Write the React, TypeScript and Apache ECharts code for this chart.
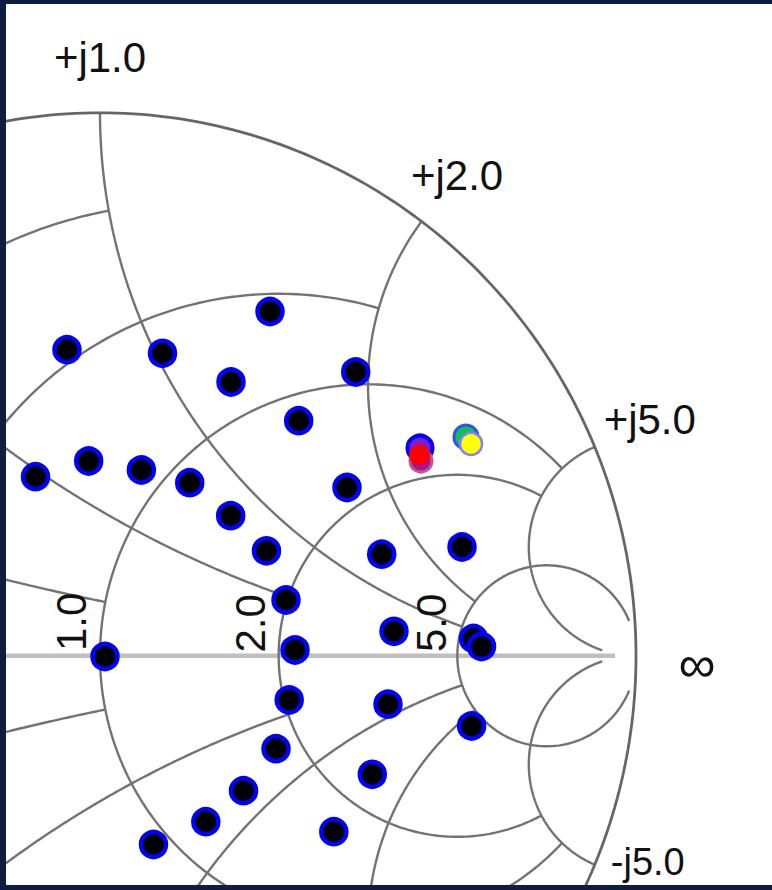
import React, { useEffect, useRef } from "react";
import * as echarts from "echarts";

// Smith chart grid (MATLAB-style: value row and the limit each line is drawn up to)
const resistanceValues = [0.2, 0.5, 1, 2, 5];
const resistanceLimits = [1, 2, 5, 5, 30];
const reactanceValues = [0.2, 0.5, 1, 2, 5];
const reactanceLimits = [1, 2, 5, 5, 30];

const resistanceLabelValues = [1, 2, 5];
const resistanceLabels = ["1.0", "2.0", "5.0"];
const reactanceLabelValues = [1, 2, 5, -5];
const reactanceLabels = ["+j1.0", "+j2.0", "+j5.0", "-j5.0"];
const infinityLabel = "\u221E";

// measured points (reflection coefficient, real / imaginary)
const pointsRe = [
  0.3172, -0.0616, 0.1166, 0.2444, 0.4771, 0.3707, -0.1203, -0.0211, 0.0772, 0.1674,
  0.2438, 0.4608, 0.3106, 0.5256, 0.6754, 0.347, 0.5485, 0.6968, 0.7118, 0.3638,
  0.0093, 0.353, 0.5373, 0.6933, 0.3284, 0.508, 0.2677, 0.1974, 0.4362, 0.0998,
];
const pointsIm = [
  0.6341, 0.5637, 0.5571, 0.5042, 0.5227, 0.433, 0.3298, 0.3587, 0.3422, 0.3188,
  0.258, 0.3099, 0.1934, 0.1871, 0.2004, 0.1028, 0.0451, 0.0319, 0.0171, 0.0107,
  -0.0013, -0.0814, -0.0891, -0.1293, -0.1711, -0.2182, -0.2484, -0.3055, -0.3239, -0.3475,
];

// highlighted points
const purpleRe = [0.597];
const purpleIm = [0.3827];
const magentaRe = [0.5989];
const magentaIm = [0.3587];
const redRe = [0.5961];
const redIm = [0.3698];
const greenRe = [0.6828];
const greenIm = [0.4029];
const yellowRe = [0.6922];
const yellowIm = [0.3901];

function resistanceCircle(r: number, lim: number, n = 240): number[][] {
  const a = r + 1;
  const c = r / a;
  const rho = 1 / a;
  const phiMax = Math.atan(lim / a);
  const pts: number[][] = [];
  for (let i = 0; i <= n; i++) {
    const phi = -phiMax + (2 * phiMax * i) / n;
    const th = Math.PI - 2 * phi;
    pts.push([c + rho * Math.cos(th), rho * Math.sin(th)]);
  }
  return pts;
}

function reactanceArc(x: number, lim: number, n = 240): number[][] {
  const p0 = Math.atan(x / 1);
  const p1 = Math.atan(x / (lim + 1));
  const pts: number[][] = [];
  for (let i = 0; i <= n; i++) {
    const phi = p0 + ((p1 - p0) * i) / n;
    pts.push([1 - Math.sin(2 * phi) / x, (1 - Math.cos(2 * phi)) / x]);
  }
  return pts;
}

function zToGamma(r: number, x: number): number[] {
  const nr = r - 1, ni = x, dr = r + 1, di = x;
  const d = dr * dr + di * di;
  return [(nr * dr + ni * di) / d, (ni * dr - nr * di) / d];
}

const zip = (a: number[], b: number[]) => a.map((v, i) => [v, b[i]]);

// plot box geometry (pixels)
const BOX_L = 6, BOX_T = 4, BOX_W = 766, BOX_H = 881;
const CX = 100, CY = 655.8, RX = 536, RY = 543;

export default function App() {
  const ref = useRef<HTMLDivElement>(null);
  useEffect(() => {
    const chart = echarts.init(ref.current!, null, { renderer: "svg" });
    const gridColor = "#737373";
    const series: any[] = [];
    const lineS = (data: number[][], color: string, width: number) => ({
      type: "line",
      data,
      showSymbol: false,
      silent: true,
      smooth: false,
      lineStyle: { color, width },
      z: 2,
    });
    series.push(lineS([[-1, 0], [0.961, 0]], "#bfbfbf", 4.5));
    resistanceValues.forEach((r, i) => series.push(lineS(resistanceCircle(r, resistanceLimits[i]), gridColor, 2.4)));
    reactanceValues.forEach((x, i) => {
      series.push(lineS(reactanceArc(x, reactanceLimits[i]), gridColor, 2.4));
      series.push(lineS(reactanceArc(-x, reactanceLimits[i]), gridColor, 2.4));
    });
    series.push(lineS(resistanceCircle(0, Infinity, 400), "#666666", 2.8));

    const dot = (data: number[][], color: string, border: string, bw: number, size: number, z: number) => ({
      type: "scatter",
      data,
      symbol: "circle",
      symbolSize: size,
      silent: true,
      itemStyle: { color, borderColor: border, borderWidth: bw, opacity: 1 },
      z,
    });
    series.push(dot(zip(pointsRe, pointsIm), "#000000", "#0000ff", 4.5, 25, 5));
    series.push(dot(zip(purpleRe, purpleIm), "#7a1fd0", "#0000ff", 4, 25, 6));
    series.push(dot(zip(magentaRe, magentaIm), "#9a1aa8", "#d05080", 3, 22, 7));
    series.push(dot(zip(redRe, redIm), "#ff0000", "#ff0000", 0, 21, 8));
    series.push(dot(zip(greenRe, greenIm), "#10c050", "#3050ff", 3, 24, 6));
    series.push(dot(zip(yellowRe, yellowIm), "#ffff00", "#8080ff", 2.5, 22, 7));

    const uMin = (BOX_L - CX) / RX;
    const uMax = (BOX_L + BOX_W - CX) / RX;
    const vMax = (CY - BOX_T) / RY;
    const vMin = (CY - (BOX_T + BOX_H)) / RY;

    const navy = "#0d1e40";
    const baseGraphic: any[] = [
      { type: "rect", id: "bg", z: -10, shape: { x: BOX_L, y: BOX_T, width: BOX_W, height: BOX_H }, style: { fill: "#ffffff" } },
    ];

    chart.setOption({
      animation: false,
      backgroundColor: navy,
      grid: { left: BOX_L, top: BOX_T, width: BOX_W, height: BOX_H, containLabel: false },
      xAxis: { type: "value", min: uMin, max: uMax, show: false },
      yAxis: { type: "value", min: vMin, max: vMax, show: false },
      graphic: baseGraphic,
      series,
    });

    const px = (g: number[]) => chart.convertToPixel({ xAxisIndex: 0, yAxisIndex: 0 }, g) as number[];
    const font = "'Liberation Sans', Arial, Helvetica, sans-serif";
    const texts: any[] = [];
    const rOffsets = [[-28.5, -34], [-27.7, -32.5], [-25.8, -33]];
    resistanceLabelValues.forEach((r, i) => {
      const p = px(zToGamma(r, 0));
      texts.push({
        type: "text", id: "rl" + i, z: 50,
        x: p[0] + rOffsets[i][0], y: p[1] + rOffsets[i][1], rotation: Math.PI / 2,
        style: { text: resistanceLabels[i], fill: "#111", font: `42px ${font}`, align: "center", verticalAlign: "middle" },
      });
    });
    const xOffsets = [[0, -55], [35.5, -45.5], [55, -27], [53, -3]];
    const xSizes = [42, 42, 42, 38];
    reactanceLabelValues.forEach((x, i) => {
      const p = px(zToGamma(0, x));
      texts.push({
        type: "text", id: "xl" + i, z: 50,
        x: p[0] + xOffsets[i][0], y: p[1] + xOffsets[i][1], rotation: 0,
        style: { text: reactanceLabels[i], fill: "#111", font: `${xSizes[i]}px ${font}`, align: "center", verticalAlign: "middle" },
      });
    });
    const pInf = px([1, 0]);
    texts.push({
      type: "text", id: "inf", z: 50, x: pInf[0] + 61, y: pInf[1] + 8, rotation: 0,
      style: { text: infinityLabel, fill: "#111", font: `52px ${font}`, align: "center", verticalAlign: "middle" },
    });
    // frame bands on top
    const bands = [
      { x: 0, y: 0, width: 772, height: BOX_T },
      { x: 0, y: 0, width: BOX_L, height: 890 },
      { x: 0, y: BOX_T + BOX_H, width: 772, height: 890 - BOX_T - BOX_H },
    ].map((s, i) => ({ type: "rect", id: "band" + i, z: 100, shape: s, style: { fill: navy } }));

    chart.setOption({ graphic: [...baseGraphic, ...texts, ...bands] });
    return () => chart.dispose();
  }, []);
  return <div ref={ref} style={{ position: "fixed", left: 0, top: 0, width: 772, height: 890 }} />;
}
